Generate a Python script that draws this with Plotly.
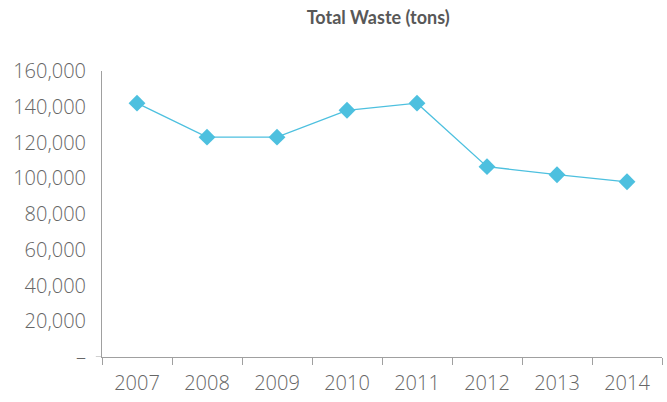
import plotly.graph_objects as go

years = ["2007", "2008", "2009", "2010", "2011", "2012", "2013", "2014"]
waste_tons = [142000, 123000, 123000, 138000, 142000, 106500, 102000, 98000]
y_tick_vals = [0, 20000, 40000, 60000, 80000, 100000, 120000, 140000, 160000]
y_tick_text = ["–", "20,000", "40,000", "60,000", "80,000", "100,000", "120,000", "140,000", "160,000"]

line_color = "#4DC0DF"
text_color = "#666666"
axis_color = "#A0A0A0"

fig = go.Figure()
fig.add_trace(go.Scatter(
    x=years, y=waste_tons, mode="lines+markers",
    line=dict(color=line_color, width=1.3),
    marker=dict(symbol="diamond", size=13, color=line_color),
    hoverinfo="x+y", showlegend=False,
))

fig.update_layout(
    width=667, height=402,
    margin=dict(l=102, r=5, t=71, b=45, autoexpand=False),
    paper_bgcolor="white", plot_bgcolor="white",
    font=dict(family="Open Sans", color=text_color, size=20),
    title=dict(text="Total Waste (tons)", x=0.567, xanchor="center", y=0.955, yanchor="middle",
               font=dict(family="Lato", size=18, color="#585858", weight="bold")),
    xaxis=dict(
        type="category", showline=True, linecolor=axis_color, linewidth=1,
        ticks="outside", tickson="boundaries", ticklen=7, tickcolor=axis_color, tickwidth=1,
        showgrid=False, zeroline=False, range=[-0.5, 7.5], automargin=False,
        ticklabelstandoff=8,
        tickfont=dict(family="Open Sans", size=20, color=text_color, weight=300),
    ),
    yaxis=dict(
        range=[0, 160000], showline=True, linecolor=axis_color, linewidth=1,
        tickvals=y_tick_vals, ticktext=y_tick_text, automargin=False,
        ticks="outside", ticklen=11, tickcolor="rgba(0,0,0,0)",
        showgrid=False, zeroline=False,
        tickfont=dict(family="Open Sans", size=20, color=text_color, weight=300),
    ),
)
# small extension of the baseline to the left of the value axis
fig.add_shape(type="line", xref="x domain", yref="y", x0=-0.011, x1=0, y0=0, y1=0,
              line=dict(color=axis_color, width=1))

fig.write_html("out.html", config={"displayModeBar": False},
               post_script="document.body.style.margin='0';document.body.style.overflow='hidden';")
